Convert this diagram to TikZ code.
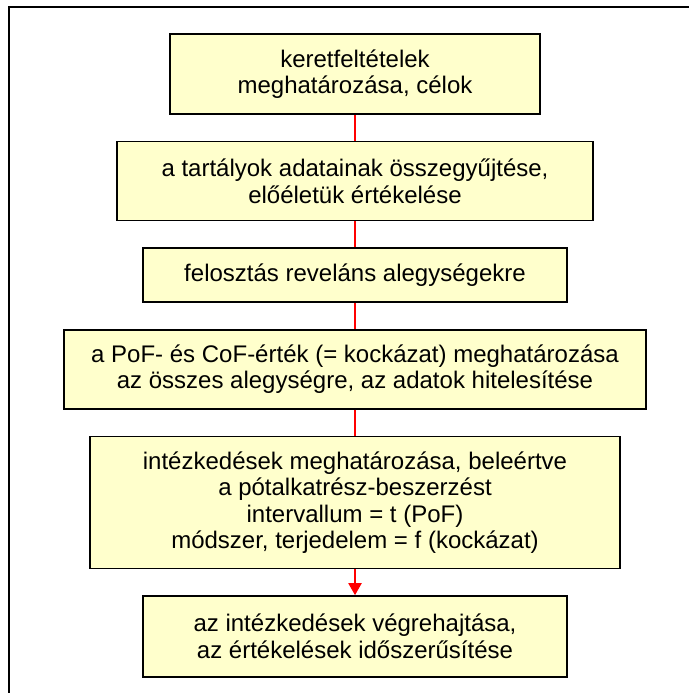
\documentclass[tikz,border=0pt]{standalone}
\usepackage{fontspec}
\setmainfont{Liberation Sans}
\usepackage{tikz}
\usetikzlibrary{arrows.meta, positioning}
\usepackage{xcolor}
\definecolor{BoxFill}{HTML}{FFFFCC}
\definecolor{BoxLine}{HTML}{000000}
\definecolor{LinkRed}{HTML}{FF0000}
\tikzset{
    % Node styles
    stepbox/.style={
        rectangle,
        draw=BoxLine,
        fill=BoxFill,
        line width=1.6pt,
        align=center,
        inner sep=2pt,
        font=\fontsize{24}{26.5}\selectfont
    },
    % Connector styles
    link/.style={
        draw=LinkRed,
        line width=2pt
    },
    linkarrow/.style={
        link,
        -{Triangle[width=13pt,length=12pt]},
        LinkRed
    },
    frameline/.style={
        draw=BoxLine,
        line width=2.2pt
    }
}
\begin{document}
\begin{tikzpicture}[x=1pt, y=-1pt]
    \useasboundingbox (0,0) rectangle (688,693);

    % Frame (only top and left edges inside the page)
    \coordinate (frameTR) at (690,7);
    \coordinate (frameTL) at (9,7);
    \coordinate (frameBL) at (9,695);
    \draw[frameline] (frameTR) -- (frameTL) -- (frameBL);

    % Steps
    \node[stepbox, minimum width=370pt, minimum height=80pt] (keret) at (355,74)
        {keretfeltételek\\meghatározása, célok};
    \node[stepbox, minimum width=476pt, minimum height=79pt, below=26pt of keret] (adatok)
        {a tartályok adatainak összegyűjtése,\\előéletük értékelése};
    \node[stepbox, minimum width=424pt, minimum height=54pt, below=26pt of adatok] (felosztas)
        {felosztás reveláns alegységekre};
    \node[stepbox, minimum width=582pt, minimum height=79pt, below=26pt of felosztas] (kockazat)
        {a PoF- és CoF-érték (= kockázat) meghatározása\\az összes alegységre, az adatok hitelesítése};
    \node[stepbox, minimum width=530pt, minimum height=132pt, below=26pt of kockazat] (intezkedes)
        {intézkedések meghatározása, beleértve\\a pótalkatrész-beszerzést\\intervallum = t (PoF)\\módszer, terjedelem = f (kockázat)};
    \node[stepbox, minimum width=424pt, minimum height=81pt, below=26pt of intezkedes] (vegrehajtas)
        {az intézkedések végrehajtása,\\az értékelések időszerűsítése};

    % Connectors
    \draw[link] (keret) -- (adatok);
    \draw[link] (adatok) -- (felosztas);
    \draw[link] (felosztas) -- (kockazat);
    \draw[link] (kockazat) -- (intezkedes);
    \draw[linkarrow] (intezkedes) -- (vegrehajtas);
\end{tikzpicture}
\end{document}
